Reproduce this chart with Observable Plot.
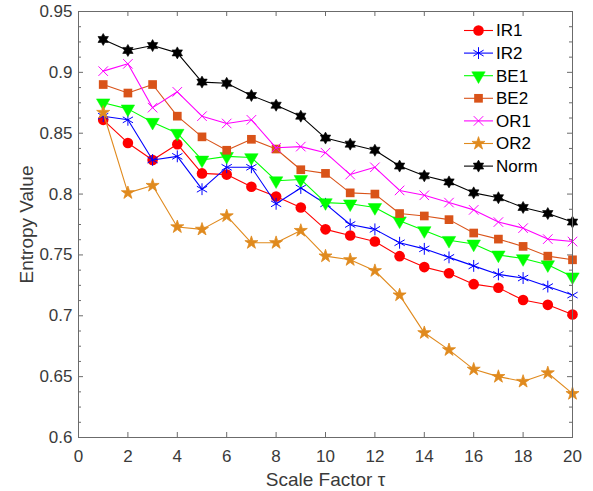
<!DOCTYPE html>
<html>
<head>
<meta charset="utf-8">
<script src="https://cdn.jsdelivr.net/npm/d3@7"></script>
<script src="https://cdn.jsdelivr.net/npm/@observablehq/plot@0.6"></script>
<style>
  html, body { margin: 0; padding: 0; background: #fff; }
  #chart { position: relative; width: 593px; height: 491px; }
</style>
</head>
<body>
<div id="chart"></div>
<script>
// ---- data ----
const scaleFactor = [1,2,3,4,5,6,7,8,9,10,11,12,13,14,15,16,17,18,19,20];
const IR1  = [0.861,0.842,0.828,0.841,0.817,0.816,0.806,0.798,0.789,0.771,0.766,0.761,0.749,0.740,0.735,0.726,0.723,0.713,0.709,0.701];
const IR2  = [0.864,0.861,0.828,0.831,0.804,0.822,0.822,0.792,0.805,0.792,0.775,0.771,0.760,0.755,0.748,0.741,0.734,0.731,0.724,0.717];
const BE1  = [0.875,0.870,0.859,0.850,0.828,0.831,0.830,0.811,0.812,0.793,0.792,0.789,0.778,0.770,0.762,0.759,0.750,0.747,0.742,0.732];
const BE2  = [0.890,0.883,0.890,0.864,0.847,0.836,0.845,0.837,0.820,0.817,0.801,0.800,0.784,0.782,0.779,0.768,0.763,0.757,0.749,0.746];
const OR1  = [0.901,0.907,0.871,0.884,0.864,0.858,0.861,0.838,0.839,0.834,0.816,0.822,0.803,0.799,0.793,0.787,0.777,0.772,0.763,0.761];
const OR2  = [0.867,0.801,0.807,0.773,0.771,0.782,0.760,0.760,0.770,0.749,0.746,0.737,0.717,0.686,0.672,0.656,0.650,0.646,0.653,0.636];
const Norm = [0.927,0.918,0.922,0.916,0.892,0.891,0.881,0.873,0.864,0.846,0.841,0.836,0.823,0.815,0.810,0.801,0.797,0.789,0.784,0.777];

const seriesNames = ["IR1","IR2","BE1","BE2","OR1","OR2","Norm"];
const seriesValues = [IR1, IR2, BE1, BE2, OR1, OR2, Norm];

const xTicks = [0,2,4,6,8,10,12,14,16,18,20];
const yTicks = [0.6,0.65,0.7,0.75,0.8,0.85,0.9,0.95];
const yMinorTicks = [0.6125,0.625,0.6375,0.6625,0.675,0.6875,0.7125,0.725,0.7375,0.7625,0.775,0.7875,0.8125,0.825,0.8375,0.8625,0.875,0.8875,0.9125,0.925,0.9375];
const xLabel = "Scale Factor τ";
const yLabel = "Entropy Value";

// ---- styles ----
const hexagram = {
  draw(ctx, size) {
    const R = Math.sqrt(size / Math.PI), r = R / Math.sqrt(3);
    for (let i = 0; i < 12; i++) {
      const a = Math.PI / 6 * i - Math.PI / 2, rr = i % 2 ? r : R;
      const x = rr * Math.cos(a), y = rr * Math.sin(a);
      i ? ctx.lineTo(x, y) : ctx.moveTo(x, y);
    }
    ctx.closePath();
  }
};
const styles = {
  IR1:  {color: "#ff0000", plotSym: "circle",   d3Sym: d3.symbolCircle,   r: 5.3, filled: true,  rotate: 0, edge: 0},
  IR2:  {color: "#0000ff", plotSym: "asterisk", d3Sym: d3.symbolAsterisk, r: 5.6, filled: false, rotate: 0, edge: 1},
  BE1:  {color: "#00ff00", plotSym: "triangle", d3Sym: d3.symbolTriangle, r: 5.0, filled: true,  rotate: 180, edge: 0.5},
  BE2:  {color: "#d95319", plotSym: "square",   d3Sym: d3.symbolSquare,   r: 4.9, filled: true,  rotate: 0, edge: 0},
  OR1:  {color: "#ff00ff", plotSym: "times",    d3Sym: d3.symbolTimes,    r: 4.4, filled: false, rotate: 0, edge: 1},
  OR2:  {color: "#e08a1e", plotSym: "star",     d3Sym: d3.symbolStar,     r: 4.1, filled: true,  rotate: 0, edge: 0.8},
  Norm: {color: "#000000", plotSym: hexagram,   d3Sym: hexagram,          r: 6.0, filled: true,  rotate: 0, edge: 0.6}
};

const rows = [];
seriesNames.forEach((name, i) => {
  scaleFactor.forEach((x, j) => rows.push({series: name, x, y: seriesValues[i][j]}));
});

const W = 593, H = 491;
const M = {top: 11, right: 21, bottom: 54, left: 78};
const innerW = W - M.left - M.right, innerH = H - M.top - M.bottom;
const axisColor = "#6b6b6b";
const textColor = "#3a3a3a";
const fontFamily = "'Liberation Sans', Arial, Helvetica, sans-serif";

const seriesMarks = [];
for (const name of seriesNames) {
  const s = styles[name];
  const data = rows.filter(d => d.series === name);
  seriesMarks.push(Plot.line(data, {x: "x", y: "y", stroke: s.color, strokeWidth: 1.1}));
  seriesMarks.push(Plot.dot(data, {
    x: "x", y: "y", symbol: s.plotSym, r: s.r, rotate: s.rotate,
    fill: s.filled ? s.color : "none",
    stroke: s.edge > 0 ? s.color : "none",
    strokeWidth: s.edge,
    strokeLinejoin: "round"
  }));
}

// legend drawn inside the svg
function legendMark() {
  const g = d3.create("svg:g").attr("font-family", fontFamily).attr("font-size", 17)
    .attr("text-anchor", "start");
  const x0 = 464, x1 = 493, y0 = 30.5, step = 22.6;
  seriesNames.forEach((name, i) => {
    const s = styles[name];
    const y = y0 + i * step;
    const row = g.append("g").attr("transform", `translate(0,${y})`);
    row.append("line").attr("x1", x0).attr("x2", x1).attr("y1", 0).attr("y2", 0)
      .attr("stroke", s.color).attr("stroke-width", 1.1);
    row.append("path")
      .attr("d", d3.symbol(s.d3Sym, Math.PI * s.r * s.r)())
      .attr("transform", `translate(${(x0 + x1) / 2},0) rotate(${s.rotate})`)
      .attr("fill", s.filled ? s.color : "none")
      .attr("stroke", s.edge > 0 ? s.color : "none")
      .attr("stroke-width", s.edge)
      .attr("stroke-linejoin", "round");
    row.append("text").attr("x", 496).attr("y", 0).attr("dy", "0.35em")
      .attr("text-anchor", "start")
      .attr("fill", "#000").text(name);
  });
  return g.node();
}

const chart = Plot.plot({
  width: W, height: H,
  marginTop: M.top, marginRight: M.right, marginBottom: M.bottom, marginLeft: M.left,
  style: {fontFamily, fontSize: "17px", color: textColor, background: "#fff"},
  x: {domain: [0, 20]},
  y: {domain: [0.6, 0.95]},
  marks: [
    // inward ticks
    Plot.ruleX(xTicks, {x: d => d, insetTop: innerH - 5, stroke: axisColor}),
    Plot.ruleX(xTicks, {x: d => d, insetBottom: innerH - 5, stroke: axisColor}),
    Plot.ruleY(yTicks, {y: d => d, insetRight: innerW - 5, stroke: axisColor}),
    Plot.ruleY(yTicks, {y: d => d, insetLeft: innerW - 5, stroke: axisColor}),
    Plot.ruleY(yMinorTicks, {y: d => d, insetRight: innerW - 3, stroke: axisColor}),
    Plot.ruleY(yMinorTicks, {y: d => d, insetLeft: innerW - 3, stroke: axisColor}),
    Plot.axisX({ticks: xTicks, tickSize: 0, tickPadding: 12, label: null, tickFormat: d => String(d)}),
    Plot.axisY({ticks: yTicks, tickSize: 0, tickPadding: 6, label: null, tickFormat: d => String(d)}),
    ...seriesMarks,
    Plot.frame({stroke: axisColor, strokeWidth: 1}),
    Plot.text([xLabel], {frameAnchor: "bottom", dy: 48, lineAnchor: "bottom", textAnchor: "middle", text: d => d, fontSize: 19, fill: textColor}),
    Plot.text([yLabel], {frameAnchor: "left", dx: -46, rotate: -90, lineAnchor: "bottom", textAnchor: "middle", text: d => d, fontSize: 19, fill: textColor}),
    legendMark
  ]
});
document.getElementById("chart").appendChild(chart);
</script>
</body>
</html>
